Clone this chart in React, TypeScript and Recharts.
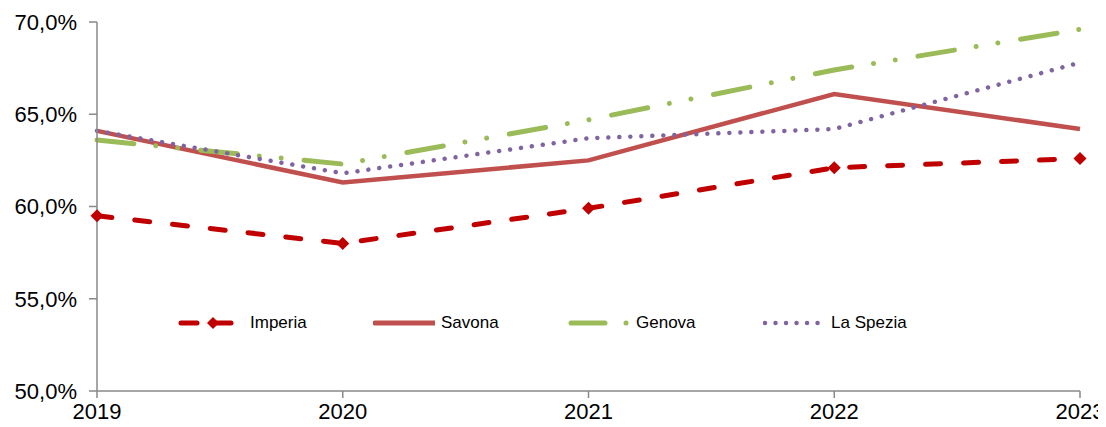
import { LineChart, Line, XAxis, YAxis, Legend } from 'recharts';

const years = ['2019', '2020', '2021', '2022', '2023'];
const imperia = [59.5, 58.0, 59.9, 62.1, 62.6];
const savona = [64.1, 61.3, 62.5, 66.1, 64.2];
const genova = [63.6, 62.3, 64.7, 67.4, 69.6];
const laSpezia = [64.1, 61.8, 63.7, 64.2, 67.8];
const yTicks = [50, 55, 60, 65, 70];

const colors = {
    Imperia: '#C00000',
    Savona: '#C0504D',
    Genova: '#9BBB59',
    'La Spezia': '#8064A2',
};

const data = years.map((year, i) => ({
    year,
    Imperia: imperia[i],
    Savona: savona[i],
    Genova: genova[i],
    'La Spezia': laSpezia[i],
}));

const font = '"Liberation Sans", Arial, sans-serif';
const fmt = (v: number) => `${v.toFixed(1).replace('.', ',')}%`;

const Diamond = (props: any) => {
    const { cx, cy } = props;
    if (cx == null || cy == null) return null;
    const r = 6.5;
    return (
        <path
            key={`d-${cx}`}
            d={`M${cx},${cy - r}L${cx + r},${cy}L${cx},${cy + r}L${cx - r},${cy}Z`}
            fill={colors.Imperia}
        />
    );
};

function LegendIcon({ name }: { name: string }) {
    const c = (colors as any)[name];
    if (name === 'Imperia') {
        return (
            <svg width={62} height={14}>
                <line x1={3} y1={7} x2={19} y2={7} stroke={c} strokeWidth={5} strokeLinecap="round" />
                <line x1={34} y1={7} x2={53} y2={7} stroke={c} strokeWidth={5} strokeLinecap="round" />
                <path d="M35,1L41,7L35,13L29,7Z" fill={c} />
            </svg>
        );
    }
    if (name === 'Savona') {
        return (
            <svg width={62} height={14}>
                <line x1={2} y1={7} x2={64} y2={7} stroke={c} strokeWidth={5} strokeLinecap="round" />
            </svg>
        );
    }
    if (name === 'Genova') {
        return (
            <svg width={62} height={14}>
                <line x1={3} y1={7} x2={37} y2={7} stroke={c} strokeWidth={5} strokeLinecap="round" />
                <circle cx={58} cy={7} r={2.5} fill={c} />
            </svg>
        );
    }
    return (
        <svg width={62} height={14}>
            <line x1={2} y1={7} x2={62} y2={7} stroke={c} strokeWidth={4.5} strokeLinecap="round" strokeDasharray="0.01 10.5" />
        </svg>
    );
}

const renderLegend = () => (
    <div style={{ display: 'flex', alignItems: 'center', fontFamily: font, fontSize: 17, color: '#000' }}>
        {Object.keys(colors).map(name => (
            <div key={name} style={{ display: 'flex', alignItems: 'center', width: 195 }}>
                <LegendIcon name={name} />
                <span style={{ marginLeft: name === 'Imperia' ? 10 : 6 }}>{name}</span>
            </div>
        ))}
    </div>
);

export default function App() {
    return (
        <LineChart
            width={1098}
            height={419}
            data={data}
            margin={{ top: 14, right: 26, bottom: 0, left: 0 }}
        >
            <XAxis
                dataKey="year"
                height={36}
                tick={{ fontSize: 22, fill: '#000', fontFamily: font }}
                axisLine={{ stroke: '#898989', strokeWidth: 1.5 }}
                tickLine={{ stroke: '#898989', strokeWidth: 1.5 }}
                tickSize={7}
                tickMargin={5}
                interval={0}
            />
            <YAxis
                domain={[50, 70]}
                ticks={yTicks}
                width={89}
                tickFormatter={fmt}
                tick={{ fontSize: 22, fill: '#000', fontFamily: font }}
                axisLine={{ stroke: '#898989', strokeWidth: 1.5 }}
                tickLine={{ stroke: '#898989', strokeWidth: 1.5 }}
                tickSize={8}
                tickMargin={12}
            />
            <Legend
                layout="horizontal"
                verticalAlign="middle"
                align="center"
                content={renderLegend}
                wrapperStyle={{ top: 305, left: 170, width: 800, height: 20 }}
            />
            <Line
                dataKey="Imperia"
                stroke={colors.Imperia}
                strokeWidth={5}
                strokeDasharray="15 23"
                strokeLinecap="round"
                dot={Diamond}
                activeDot={false}
                isAnimationActive={false}
            />
            <Line
                dataKey="Savona"
                stroke={colors.Savona}
                strokeWidth={4.5}
                dot={false}
                activeDot={false}
                isAnimationActive={false}
            />
            <Line
                dataKey="Genova"
                stroke={colors.Genova}
                strokeWidth={5}
                strokeDasharray="37 22 0.01 22 0.01 23"
                strokeLinecap="round"
                dot={false}
                activeDot={false}
                isAnimationActive={false}
            />
            <Line
                dataKey="La Spezia"
                stroke={colors['La Spezia']}
                strokeWidth={4.5}
                strokeDasharray="0.01 11"
                strokeLinecap="round"
                dot={false}
                activeDot={false}
                isAnimationActive={false}
            />
        </LineChart>
    );
}
